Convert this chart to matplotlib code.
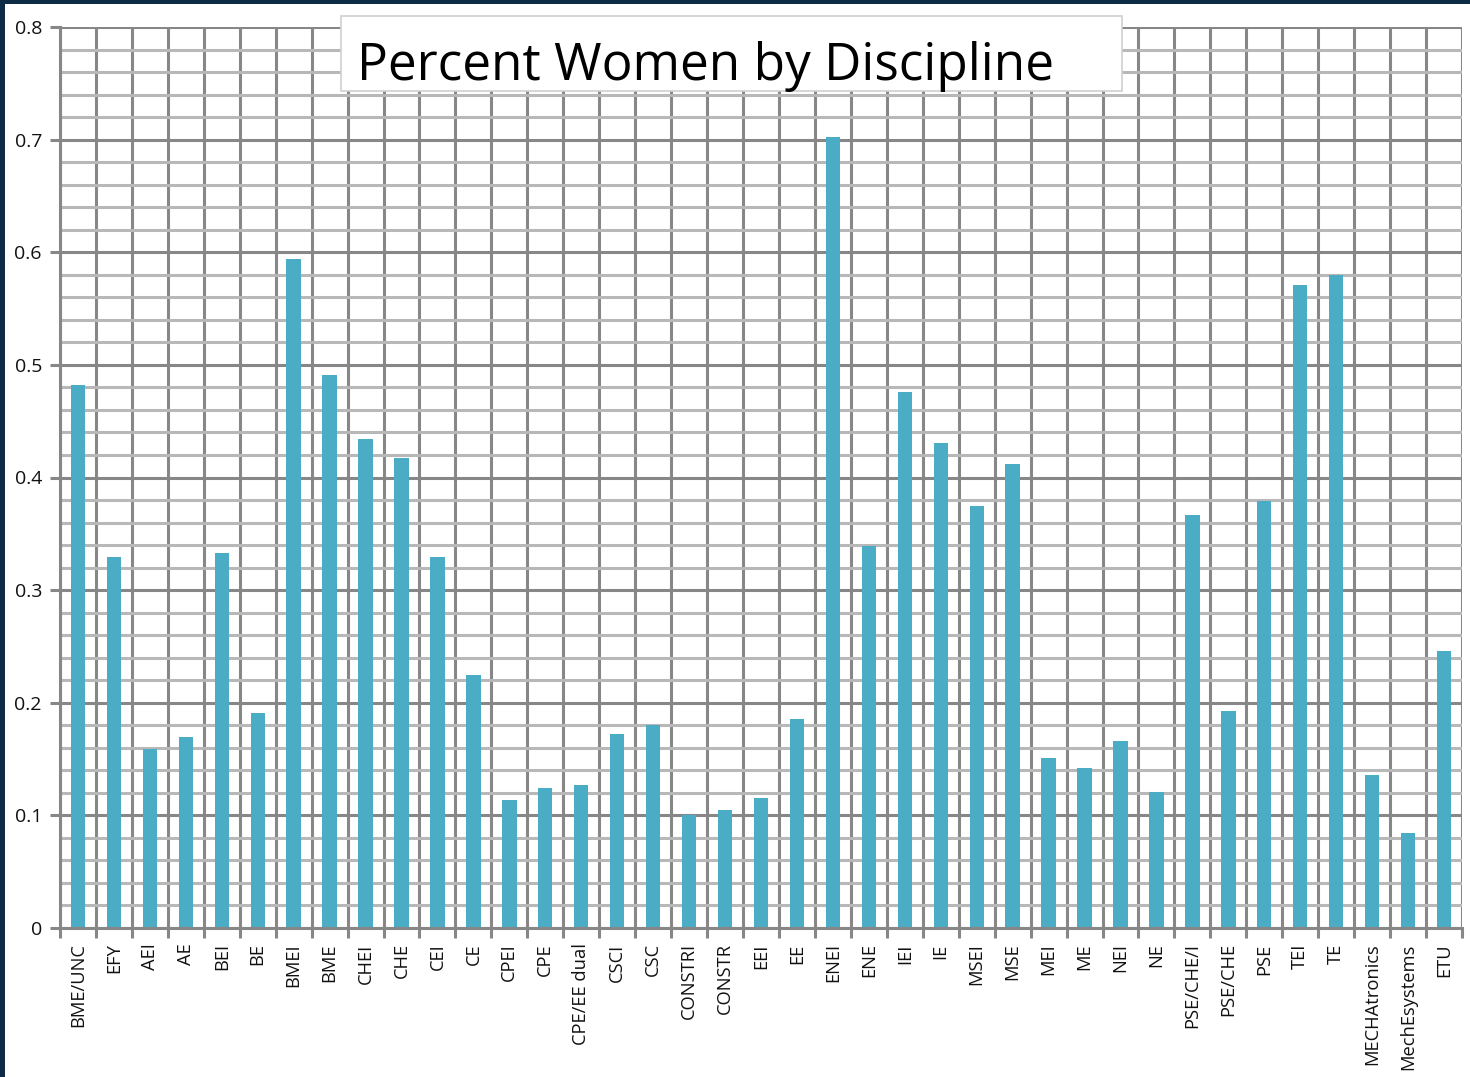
import matplotlib
matplotlib.use("Agg")
import matplotlib.pyplot as plt
from matplotlib.patches import Rectangle
from matplotlib.ticker import MultipleLocator, FixedLocator
import numpy as np

disciplines = [
    "BME/UNC", "EFY", "AEI", "AE", "BEI", "BE", "BMEI", "BME", "CHEI", "CHE",
    "CEI", "CE", "CPEI", "CPE", "CPE/EE dual", "CSCI", "CSC", "CONSTRI", "CONSTR",
    "EEI", "EE", "ENEI", "ENE", "IEI", "IE", "MSEI", "MSE", "MEI", "ME", "NEI",
    "NE", "PSE/CHE/I", "PSE/CHE", "PSE", "TEI", "TE", "MECHAtronics",
    "MechEsystems", "ETU",
]
percent_women = [
    0.482, 0.329, 0.159, 0.170, 0.333, 0.191, 0.594, 0.491, 0.434, 0.417,
    0.329, 0.225, 0.114, 0.124, 0.127, 0.172, 0.180, 0.100, 0.105,
    0.115, 0.186, 0.702, 0.339, 0.476, 0.431, 0.375, 0.412, 0.151, 0.142, 0.166,
    0.121, 0.367, 0.193, 0.379, 0.571, 0.580, 0.136,
    0.084, 0.246,
]
y_ticks = [0, 0.1, 0.2, 0.3, 0.4, 0.5, 0.6, 0.7, 0.8]
y_tick_labels = ["0", "0.1", "0.2", "0.3", "0.4", "0.5", "0.6", "0.7", "0.8"]
title = "Percent Women by Discipline"

W, H = 1470, 1077
fig = plt.figure(figsize=(W / 100, H / 100), dpi=100)
fig.patch.set_facecolor("white")

ax = fig.add_axes([60 / W, 1 - 928 / H, (1462 - 60) / W, (928 - 27) / H])
n = len(disciplines)
x = np.arange(n)
ax.bar(x, percent_women, width=0.4, color="#4BACC6", zorder=3)

ax.set_xlim(-0.5, n - 0.5)
ax.set_ylim(0, 0.8)

# horizontal grid: major every 0.1, minor every 0.02
ax.yaxis.set_major_locator(FixedLocator(y_ticks))
ax.set_yticklabels(y_tick_labels)
ax.yaxis.set_minor_locator(MultipleLocator(0.02))
ax.grid(which="minor", axis="y", color="#b8b8b8", linewidth=2.2, zorder=1)
ax.grid(which="major", axis="y", color="#878787", linewidth=2.2, zorder=1)

# category boundaries as vertical lines with outside tick marks
ax.set_xticks(x)
ax.set_xticklabels(disciplines, rotation=90, fontsize=13.2, family="Open Sans",
                   color="#111111")
ax.tick_params(axis="x", which="major", length=0, pad=11)
ax.set_xticks(np.arange(-0.5, n, 1.0), minor=True)
ax.tick_params(axis="x", which="minor", length=7, width=2.2, color="#878787",
               direction="out")
ax.grid(which="minor", axis="x", color="#878787", linewidth=2.2, zorder=1)

ax.tick_params(axis="y", which="major", length=7, width=2.2, color="#878787",
               labelsize=14, pad=6, labelcolor="#111111")
ax.tick_params(axis="y", which="minor", length=0)
for lab in ax.get_yticklabels():
    lab.set_family("Open Sans")

for side in ("top", "right"):
    ax.spines[side].set_visible(False)
for side in ("left", "bottom"):
    ax.spines[side].set_color("#878787")
    ax.spines[side].set_linewidth(2.2)
    ax.spines[side].set_zorder(4)

# slide frame strips
fig.patches.append(Rectangle((0, 1 - 4 / H), 1, 4 / H, transform=fig.transFigure,
                             facecolor="#0d2b45", edgecolor="none", zorder=10))
fig.patches.append(Rectangle((0, 0), 5 / W, 1, transform=fig.transFigure,
                             facecolor="#0d2b45", edgecolor="none", zorder=10))

# title box over the plot
fig.patches.append(Rectangle((341 / W, 1 - 91 / H), (1122 - 341) / W, (91 - 16) / H,
                             transform=fig.transFigure, facecolor="white",
                             edgecolor="#d0d0d0", linewidth=1.2, zorder=20))
fig.text(357 / W, 1 - 80 / H, title, fontsize=37, family="Open Sans",
         ha="left", va="baseline", color="black", zorder=21)

fig.savefig("out.png", dpi=100)
